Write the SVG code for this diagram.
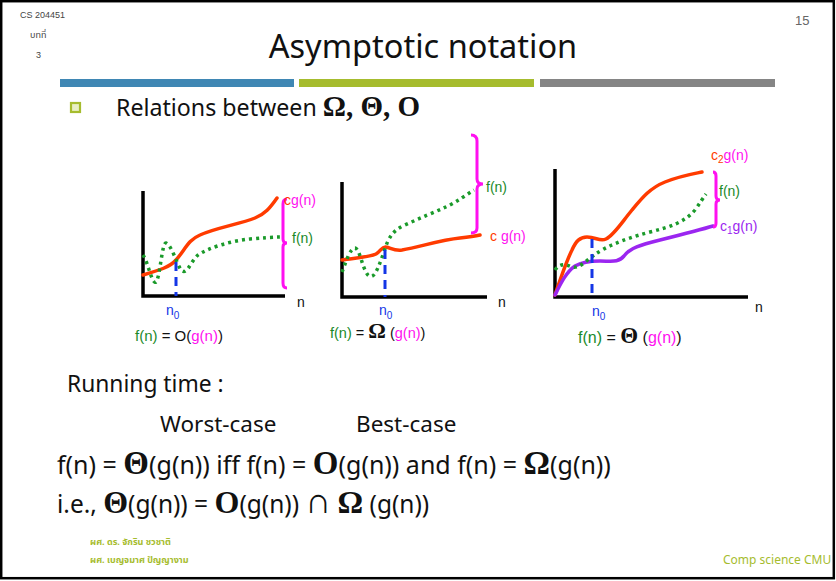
<svg xmlns="http://www.w3.org/2000/svg" width="836" height="581" viewBox="0 0 836 581">
<style>
.t{font-family:"Noto Sans","Open Sans","DejaVu Sans",sans-serif;fill:#111}
.a{font-family:"Liberation Sans",Arial,sans-serif;font-size:14px}
.sym{font-family:"Liberation Serif","DejaVu Serif",serif;font-weight:bold}
.ax{stroke:#000;stroke-width:3.5;fill:none}
.red{stroke:#ff3b00;stroke-width:3.5;fill:none;stroke-linecap:round}
.pur{stroke:#9b26f0;stroke-width:3.5;fill:none;stroke-linecap:round}
.grn{stroke:#1a9a2a;stroke-width:3.5;fill:none;stroke-dasharray:3 4}
.blu{stroke:#1436e6;stroke-width:3;fill:none;stroke-dasharray:9 6}
.brc{stroke:#ff10f0;stroke-width:3;fill:none}
.cg{fill:#1a8a2a}.cm{fill:#ff10f0}.cr{fill:#ff3b00}.cb{fill:#1436e6}.cp{fill:#9b26f0}.ck{fill:#111}
.th{font-family:"Noto Sans Thai","Noto Sans","DejaVu Sans",sans-serif;font-size:9px;fill:#a6bc2e;font-weight:bold}
</style>
<rect x="1.2" y="1.2" width="832.6" height="577" fill="#fff" stroke="#000" stroke-width="2.5"/>
<g id="header">
<text x="20" y="18" font-family="Liberation Sans,Arial,sans-serif" font-size="9" fill="#444">CS 204451</text>
<text x="30" y="38" class="th" style="fill:#444;font-weight:normal">บทที่</text>
<text x="36" y="58" font-family="Liberation Sans,Arial,sans-serif" font-size="9" fill="#444">3</text>
<text x="795" y="25" font-family="Liberation Sans,Arial,sans-serif" font-size="13" fill="#666">15</text>
<text x="423" y="58" class="t" font-size="32.5" text-anchor="middle">Asymptotic notation</text>
<rect x="60" y="79" width="234" height="8" fill="#3f87b4"/>
<rect x="299" y="79" width="235" height="8" fill="#a6bc2e"/>
<rect x="540" y="79" width="235" height="8" fill="#858585"/>
<rect x="71" y="103" width="9" height="9" fill="#e9efc4" stroke="#a6bc2e" stroke-width="2.2"/>
<text x="116" y="116" class="t" font-size="23.2">Relations between <tspan class="sym" font-size="29">Ω, Θ, O</tspan></text>
</g>
<g id="graph-O">
<path class="ax" d="M143,191 V296 H285"/>
<path class="red" d="M143,275 C160,270 170,267 176,260 C185,250 188,240 200,235 C215,228 240,224 255,218 C265,214 270,208 277,198"/>
<path class="grn" d="M143,255 C148,262 152,285 156,282 C160,278 162,242 166,243 C172,246 176,262 181,270 C187,276 190,262 198,255 C208,248 230,241 250,239 C262,238 272,237 281,237"/>
<path class="blu" d="M176,262 V296"/>
<path class="brc" d="M287,199 Q283,199 283,204 V239 Q283,243 287,243 Q283,243 283,247 V283 Q283,288 287,288"/>
<text x="284" y="205" class="a"><tspan class="cr">c</tspan><tspan class="cm">g(n)</tspan></text>
<text x="292" y="243" class="a cg">f(n)</text>
<text x="297" y="307" class="a ck">n</text>
<text x="166" y="315" class="a cb">n<tspan style="font-size:10px" dy="4">0</tspan></text>
<text x="135" y="341" class="a" style="font-size:15px"><tspan class="cg">f(n)</tspan><tspan class="ck"> = O(</tspan><tspan class="cm">g(n)</tspan><tspan class="ck">)</tspan></text>
</g>
<g id="graph-Omega">
<path class="ax" d="M342,182 V297 H487"/>
<path class="red" d="M342,260 C355,258 370,257 376,254 C381,251 382,246 386,247 C391,248 394,251 402,250 C420,247 440,240 460,238 C470,237 476,236 480,235"/>
<path class="grn" d="M342,272 C346,262 350,248 355,248 C360,249 362,268 368,275 C374,281 378,268 384,252 C388,238 393,230 405,225 C420,218 435,212 448,206 C458,201 466,195 474,190"/>
<path class="blu" d="M385,250 V297"/>
<path class="brc" d="M471,135 Q477,135 477,141 V179 Q477,184 483,184 Q477,184 477,189 V228 Q477,233 471,233"/>
<text x="486" y="192" class="a cg">f(n)</text>
<text x="490" y="241" class="a"><tspan class="cr">c</tspan><tspan class="cm"> g(n)</tspan></text>
<text x="498" y="307" class="a ck">n</text>
<text x="379" y="315" class="a cb">n<tspan style="font-size:10px" dy="4">0</tspan></text>
<text x="330" y="338" class="a" style="font-size:14.5px"><tspan class="cg">f(n)</tspan><tspan class="ck"> = </tspan><tspan class="sym ck" style="font-size:22px">Ω</tspan><tspan class="ck"> (</tspan><tspan class="cm">g(n)</tspan><tspan class="ck">)</tspan></text>
</g>
<g id="graph-Theta">
<path class="ax" d="M555,169 V297 H748"/>
<path class="red" d="M555,295 C560,280 566,262 572,250 C576,241 580,237 587,237 C596,237 600,242 606,239 C614,235 622,222 632,210 C642,198 650,188 665,182 C680,176 692,174 702,172"/>
<path class="pur" d="M555,295 C560,285 566,272 575,266 C582,262 590,261 600,261 C612,261 618,263 624,256 C630,248 640,245 660,240 C680,235 700,230 713,226"/>
<path class="grn" d="M555,270 C560,263 565,264 572,267 C578,269 585,262 594,255 C604,248 620,240 650,232 C670,227 685,222 695,210 C700,203 703,198 706,194"/>
<path class="blu" d="M592,239 V297"/>
<path class="brc" d="M713,172 Q716,172 716,176 V196 Q716,200 720,200 Q716,200 716,204 V223 Q716,227 713,227"/>
<text x="711" y="160" class="a"><tspan class="cr">c</tspan><tspan class="cr" style="font-size:10px" dy="3">2</tspan><tspan class="cm" dy="-3">g(n)</tspan></text>
<text x="719" y="196" class="a cg">f(n)</text>
<text x="720" y="231" class="a cp">c<tspan style="font-size:10px" dy="3">1</tspan><tspan dy="-3">g(n)</tspan></text>
<text x="755" y="312" class="a ck">n</text>
<text x="592" y="316" class="a cb">n<tspan style="font-size:10px" dy="4">0</tspan></text>
<text x="578" y="343" class="a" style="font-size:16px"><tspan class="cg">f(n)</tspan><tspan class="ck"> = </tspan><tspan class="sym ck" style="font-size:23px">Θ</tspan><tspan class="ck"> (</tspan><tspan class="cm">g(n)</tspan><tspan class="ck">)</tspan></text>
</g>
<g id="body">
<text x="67" y="392" class="t" font-size="22.8">Running time :</text>
<text x="160" y="432" class="t" font-size="22.5">Worst-case</text>
<text x="356" y="432" class="t" font-size="22.5">Best-case</text>
<text x="57" y="474" class="t" font-size="25">f(n) = <tspan class="sym" font-size="33">Θ</tspan>(g(n)) iff f(n) = <tspan class="sym" font-size="33">O</tspan>(g(n)) and f(n) = <tspan class="sym" font-size="33">Ω</tspan>(g(n))</text>
<text x="57" y="513" class="t" font-size="24.5">i.e., <tspan class="sym" font-size="32">Θ</tspan>(g(n)) = <tspan class="sym" font-size="32">O</tspan>(g(n)) <tspan class="sym" font-size="36">∩</tspan> <tspan class="sym" font-size="32">Ω</tspan> (g(n))</text>
</g>
<g id="footer">
<text x="90" y="545" class="th">ผศ. ดร. จักริน ชวชาติ</text>
<text x="90" y="563" class="th">ผศ. เบญจมาศ ปัญญางาม</text>
<text x="723" y="564" font-family="Noto Sans,Open Sans,sans-serif" font-size="12" fill="#a6bc2e">Comp science CMU</text>
</g>
</svg>
